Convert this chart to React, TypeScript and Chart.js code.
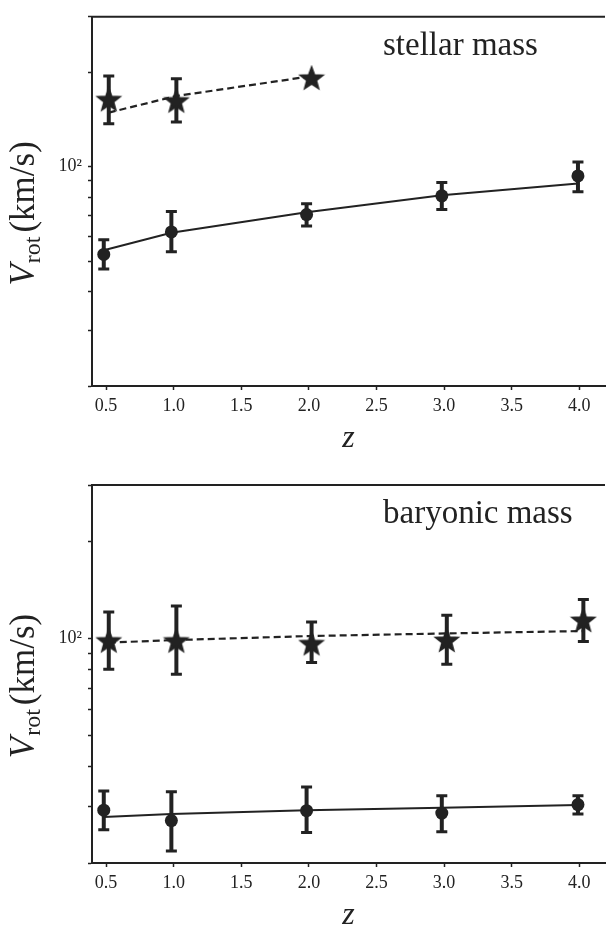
import React, { useEffect, useRef } from 'react';
import { Chart, registerables } from 'chart.js';

Chart.register(...registerables);

const INK = '#222222';
const SERIF = '"Liberation Serif", "DejaVu Serif", serif';

// axis ranges and ticks
const X_MIN = 0.396;
const X_MAX = 4.19;
const Y_MIN = 20;
const Y_MAX = 300;
const xTickValues = [0.5, 1.0, 1.5, 2.0, 2.5, 3.0, 3.5, 4.0];
const yTickValues = [20, 30, 40, 50, 60, 70, 80, 90, 100, 200, 300];
const yLabelledTick = 100;
const yLabelText = '10²';

// redshift positions of the markers (circles slightly left, stars slightly right)
const circleZ = [0.483, 0.983, 1.983, 2.983, 3.99];
const starZ = [0.52, 1.02, 2.02, 3.02, 4.03];

// --- stellar mass panel ---
const stellarStarZ = [0.52, 1.02, 2.02];
const stellarStarV = [162.6, 161.1, 190.3];
const stellarStarLo: (number | null)[] = [136.9, 138.7, null];
const stellarStarHi: (number | null)[] = [194.4, 190.3, null];
const stellarStarFit = [148.6, 167.8, 194.1];
const stellarCircV = [52.5, 61.9, 70.3, 80.7, 93.4];
const stellarCircLo = [47.2, 53.5, 64.7, 73.0, 83.1];
const stellarCircHi = [58.5, 71.9, 76.1, 89.0, 103.4];
const stellarCircFit = [54.1, 61.5, 71.5, 81.1, 88.4];

// --- baryonic mass panel ---
const baryStarV = [97.7, 97.7, 95.8, 98.1, 113.2];
const baryStarLo = [80.1, 77.3, 84.1, 83.1, 97.7];
const baryStarHi = [120.7, 126.0, 112.4, 118.1, 132.2];
const baryStarFit = [97.0, 98.8, 101.7, 103.6, 105.4];
const baryCircV = [29.2, 27.1, 29.1, 28.6, 30.4];
const baryCircLo = [25.4, 21.8, 24.9, 25.0, 28.4];
const baryCircHi = [33.5, 33.3, 34.5, 32.4, 32.4];
const baryCircFit = [27.8, 28.4, 29.2, 29.7, 30.3];

type PanelDef = {
  label: string;
  top: number;
  height: number;
  padTop: number;
  axisH: number;
  sZ: number[];
  sV: number[];
  sLo: (number | null)[];
  sHi: (number | null)[];
  sFit: number[];
  cZ: number[];
  cV: number[];
  cLo: number[];
  cHi: number[];
  cFit: number[];
};

const panels: PanelDef[] = [
  {
    label: 'stellar mass', top: 0, height: 463, padTop: 7, axisH: 77,
    sZ: stellarStarZ, sV: stellarStarV, sLo: stellarStarLo, sHi: stellarStarHi, sFit: stellarStarFit,
    cZ: circleZ, cV: stellarCircV, cLo: stellarCircLo, cHi: stellarCircHi, cFit: stellarCircFit,
  },
  {
    label: 'baryonic mass', top: 463, height: 463, padTop: 22, axisH: 63,
    sZ: starZ, sV: baryStarV, sLo: baryStarLo, sHi: baryStarHi, sFit: baryStarFit,
    cZ: circleZ, cV: baryCircV, cLo: baryCircLo, cHi: baryCircHi, cFit: baryCircFit,
  },
];

function makeStar(R: number): HTMLCanvasElement {
  const size = Math.ceil(2 * R) + 4;
  const c = document.createElement('canvas');
  c.width = size;
  c.height = size;
  const ctx = c.getContext('2d')!;
  const cx = size / 2;
  const cy = size / 2;
  const r = R * 0.42;
  ctx.fillStyle = INK;
  ctx.strokeStyle = INK;
  ctx.lineWidth = 1.5;
  ctx.lineJoin = 'miter';
  ctx.beginPath();
  for (let i = 0; i < 10; i++) {
    const ang = -Math.PI / 2 + (i * Math.PI) / 5;
    const rad = i % 2 === 0 ? R : r;
    const x = cx + rad * Math.cos(ang);
    const y = cy + rad * Math.sin(ang);
    if (i === 0) ctx.moveTo(x, y);
    else ctx.lineTo(x, y);
  }
  ctx.closePath();
  ctx.fill();
  ctx.stroke();
  return c;
}

const errorBarPlugin = {
  id: 'errbars',
  beforeDatasetsDraw(chart: any) {
    const { ctx } = chart;
    const xs = chart.scales.x;
    const ys = chart.scales.y;
    chart.data.datasets.forEach((ds: any) => {
      if (!ds.errLo) return;
      ds.data.forEach((p: any, i: number) => {
        const lo = ds.errLo[i];
        const hi = ds.errHi[i];
        if (lo == null || hi == null) return;
        const px = xs.getPixelForValue(p.x);
        const yLo = ys.getPixelForValue(lo);
        const yHi = ys.getPixelForValue(hi);
        ctx.save();
        ctx.strokeStyle = INK;
        ctx.lineCap = 'butt';
        ctx.lineWidth = 4;
        ctx.beginPath();
        ctx.moveTo(px, yLo);
        ctx.lineTo(px, yHi);
        ctx.stroke();
        ctx.lineWidth = 3;
        ctx.beginPath();
        ctx.moveTo(px - 5.5, yLo);
        ctx.lineTo(px + 5.5, yLo);
        ctx.moveTo(px - 5.5, yHi);
        ctx.lineTo(px + 5.5, yHi);
        ctx.stroke();
        ctx.restore();
      });
    });
  },
};

const textPlugin = {
  id: 'panelText',
  afterDraw(chart: any, _args: any, opts: any) {
    const { ctx, chartArea: a } = chart;
    ctx.save();
    // top frame line
    ctx.strokeStyle = INK;
    ctx.lineWidth = 2;
    ctx.beginPath();
    ctx.moveTo(a.left - 1, a.top);
    ctx.lineTo(a.right, a.top);
    ctx.stroke();

    ctx.fillStyle = INK;
    // panel annotation
    ctx.font = `33px ${SERIF}`;
    ctx.textAlign = 'left';
    ctx.textBaseline = 'alphabetic';
    ctx.fillText(opts.label, a.left + 291, a.top + 38);

    // x title
    ctx.font = `italic 32px ${SERIF}`;
    ctx.textAlign = 'center';
    ctx.fillText('z', (a.left + a.right) / 2, a.bottom + 61);

    // y title (rotated)
    const parts = [
      { t: 'V', f: `italic 35px ${SERIF}`, dy: 0, gap: 0 },
      { t: 'rot', f: `24px ${SERIF}`, dy: 6, gap: 1 },
      { t: '(km/s)', f: `35px ${SERIF}`, dy: 0, gap: 4 },
    ];
    let total = 0;
    const widths = parts.map((p) => {
      ctx.font = p.f;
      const w = ctx.measureText(p.t).width;
      total += w + p.gap;
      return w;
    });
    const cy = (a.top + a.bottom) / 2 + 12;
    ctx.translate(34, cy);
    ctx.rotate(-Math.PI / 2);
    ctx.textAlign = 'left';
    let x = -total / 2;
    parts.forEach((p, i) => {
      x += p.gap;
      ctx.font = p.f;
      ctx.fillText(p.t, x, p.dy);
      x += widths[i];
    });
    ctx.restore();
  },
};

function PanelChart({ def }: { def: PanelDef }) {
  const ref = useRef<HTMLCanvasElement>(null);
  useEffect(() => {
    if (!ref.current) return;
    const star = makeStar(12);
    const toPts = (xs: number[], ys: number[]) => xs.map((x, i) => ({ x, y: ys[i] }));
    const chart = new Chart(ref.current, {
      type: 'scatter',
      data: {
        datasets: [
          {
            data: toPts(def.cZ, def.cV),
            pointRadius: 6.5,
            pointBorderWidth: 0,
            backgroundColor: INK,
            borderColor: INK,
            showLine: false,
            errLo: def.cLo,
            errHi: def.cHi,
          } as any,
          {
            data: toPts(def.sZ, def.sV),
            pointStyle: star,
            pointRadius: 10,
            backgroundColor: INK,
            borderColor: INK,
            showLine: false,
            errLo: def.sLo,
            errHi: def.sHi,
          } as any,
          {
            data: toPts(def.cZ, def.cFit),
            showLine: true,
            pointRadius: 0,
            borderColor: INK,
            borderWidth: 2,
            fill: false,
          },
          {
            data: toPts(def.sZ, def.sFit),
            showLine: true,
            pointRadius: 0,
            borderColor: INK,
            borderWidth: 2.2,
            borderDash: [7, 4],
            fill: false,
          },
        ],
      },
      options: {
        responsive: false,
        animation: false,
        layout: { padding: { top: def.padTop, right: 0, bottom: 0, left: 0 } },
        plugins: {
          legend: { display: false },
          tooltip: { enabled: false },
          panelText: { label: def.label },
        } as any,
        scales: {
          x: {
            type: 'linear',
            min: X_MIN,
            max: X_MAX,
            afterBuildTicks: (s: any) => {
              s.ticks = xTickValues.map((v) => ({ value: v }));
            },
            afterFit: (s: any) => {
              s.height = def.axisH;
            },
            ticks: {
              autoSkip: false,
              maxRotation: 0,
              color: INK,
              padding: 5,
              font: { family: SERIF, size: 18 },
              callback: (v: any) => Number(v).toFixed(1),
            },
            grid: { drawOnChartArea: false, tickLength: 4, tickColor: INK, tickWidth: 1.5 },
            border: { display: true, color: INK, width: 2 },
          },
          y: {
            type: 'logarithmic',
            min: Y_MIN,
            max: Y_MAX,
            afterBuildTicks: (s: any) => {
              s.ticks = yTickValues.map((v) => ({ value: v }));
            },
            afterFit: (s: any) => {
              s.width = 92;
            },
            ticks: {
              autoSkip: false,
              color: INK,
              padding: 6,
              font: { family: SERIF, size: 18 },
              callback: (v: any) => (Number(v) === yLabelledTick ? yLabelText : ''),
            },
            grid: { drawOnChartArea: false, tickLength: 4, tickColor: INK, tickWidth: 1.5 },
            border: { display: true, color: INK, width: 2 },
          },
        },
      } as any,
      plugins: [errorBarPlugin, textPlugin],
    });
    return () => chart.destroy();
  }, [def]);
  return (
    <canvas
      ref={ref}
      width={616}
      height={def.height}
      style={{ position: 'absolute', left: 0, top: def.top, width: 616, height: def.height }}
    />
  );
}

export default function App() {
  useEffect(() => {
    document.body.style.margin = '0';
  }, []);
  return (
    <div style={{ position: 'absolute', left: 0, top: 0, width: 616, height: 926, background: '#fff', overflow: 'hidden' }}>
      {panels.map((p) => (
        <PanelChart key={p.label} def={p} />
      ))}
    </div>
  );
}
